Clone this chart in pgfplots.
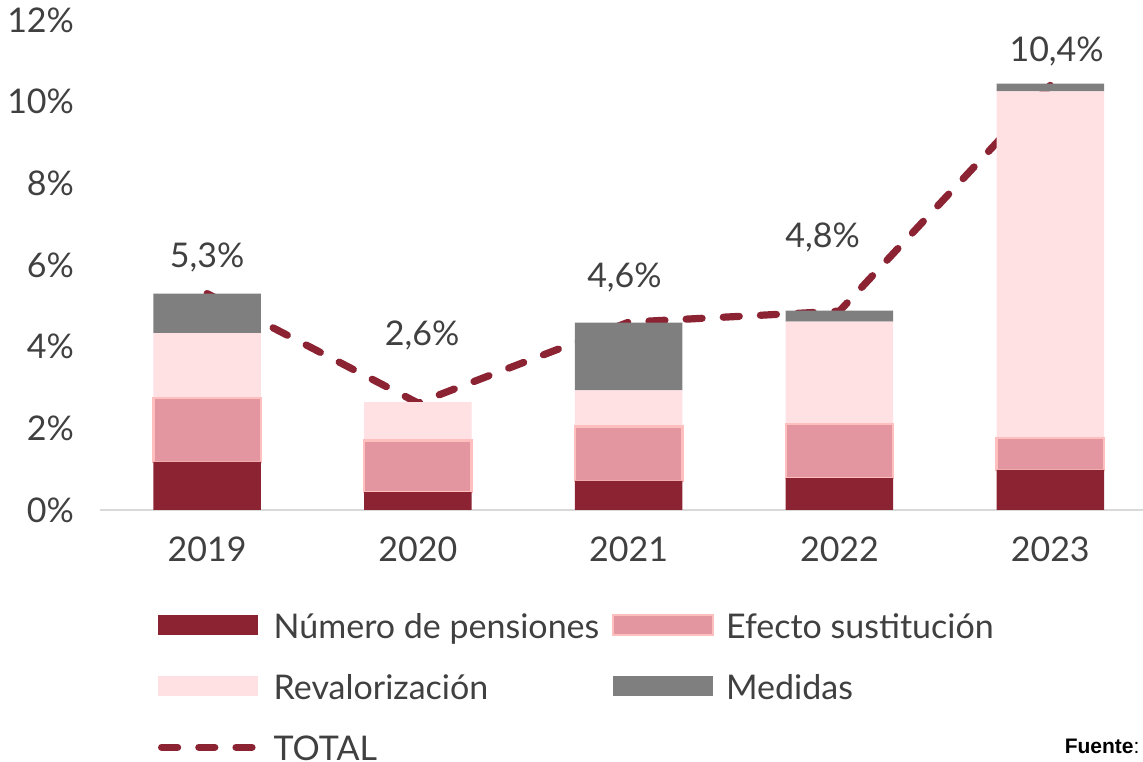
\documentclass[border=0pt]{standalone}
\usepackage{fontspec}
\setmainfont{Lato}
\newfontfamily\arialfont{Liberation Sans}
\usepackage{pgfplots}
\pgfplotsset{compat=1.18}

\definecolor{numcol}{HTML}{8B2332}
\definecolor{efecol}{HTML}{E3969F}
\definecolor{efeborder}{HTML}{FFBFBF}
\definecolor{revcol}{HTML}{FFE1E3}
\definecolor{medcol}{HTML}{7F7F7F}
\definecolor{txtgray}{HTML}{404040}
\definecolor{axisgray}{HTML}{D9D9D9}

\newcommand{\chartfont}{\fontsize{17}{20}\selectfont}

\pgfplotsset{
  swatch/.style={legend image code/.code={\path[##1] (0pt,-3.25pt) rectangle (50pt,6.75pt);}},
  dashline/.style={legend image code/.code={\draw[##1] (1.75pt,1.75pt) -- (50pt,1.75pt);}},
  frame/.style={scale only axis, width=521.5pt, height=245pt,
    xmin=-0.508, xmax=4.44, ymin=0, ymax=12},
}

\begin{document}
\begin{tikzpicture}
\begin{axis}[
  frame,
  ybar stacked,
  bar width=0.51,
  xtick={0,1,2,3,4},
  xticklabels={2019,2020,2021,2022,2023},
  ytick={0,2,4,6,8,10,12},
  yticklabel={\pgfmathprintnumber{\tick}\%},
  /pgf/number format/assume math mode=true,
  major tick length=0pt,
  axis x line*=bottom, axis y line*=left,
  axis line style={-},
  x axis line style={draw=axisgray, line width=1pt},
  y axis line style={draw=none},
  tick label style={font=\chartfont, text=txtgray},
  xticklabel style={yshift=-10pt},
  yticklabel style={xshift=-9.5pt},
  legend columns=2,
  legend cell align=left,
  legend style={draw=none, fill=none, inner sep=0pt, outer sep=0pt,
    at={(0.0556,-0.2123)}, anchor=north west,
    font=\chartfont, text=txtgray, row sep=16.5pt,
    nodes={inner sep=0pt, text height=12pt, text depth=2pt},
    /tikz/every odd column/.append style={column sep=6pt},
    /tikz/every even column/.append style={column sep=6pt}},
]

\addplot[fill=numcol, draw=none, swatch] coordinates {
(0,1.18) (1,0.44) (2,0.71) (3,0.78) (4,0.98)
};
\addlegendentry{\makebox[163pt][l]{Número de pensiones}}

\addplot[fill=efecol, draw=efeborder, line width=1.2pt, swatch] coordinates {
(0,1.56) (1,1.26) (2,1.33) (3,1.33) (4,0.78)
};
\addlegendentry{Efecto sustitución}

\addplot[fill=revcol, draw=none, swatch] coordinates {
(0,1.59) (1,0.94) (2,0.89) (3,2.50) (4,8.49)
};
\addlegendentry{\makebox[163pt][l]{Revalorización}}

\addplot[fill=medcol, draw=none, swatch] coordinates {
(0,0.97) (1,0.0) (2,1.66) (3,0.27) (4,0.19)
};
\addlegendentry{Medidas}

\addplot[sharp plot, stack plots=false, draw=numcol, line width=3.6pt,
  line cap=round, dash pattern=on 8pt off 10.6pt, mark=none, dashline] coordinates {
(0,5.3) (1,2.62) (2,4.6) (3,4.87) (4,10.4)
};
\addlegendentry{TOTAL}

\coordinate (fuente) at (rel axis cs:0.997,-0.496);
\coordinate (bbl) at (rel axis cs:-0.09588,-0.5143);
\coordinate (btr) at (rel axis cs:1,1.0408);
\end{axis}

% data labels of the total, on a plain (unstacked) overlay axis
\begin{axis}[frame, hide axis]
\addplot[only marks, mark=none, point meta=explicit symbolic, nodes near coords,
  every node near coord/.append style={anchor=base, font=\chartfont, text=txtgray, inner sep=0pt}]
  coordinates {
(0,5.93) [5{,}3\%]
(1.02,4.04) [2{,}6\%]
(1.98,5.44) [4{,}6\%]
(2.92,6.42) [4{,}8\%]
(4.03,10.98) [10{,}4\%]
};
\end{axis}

\node[anchor=base east, inner sep=0pt, font=\arialfont\fontsize{10.5}{12}\selectfont]
  at (fuente) {\textbf{Fuente}:};
\pgfresetboundingbox
\useasboundingbox (bbl) rectangle (btr);
\end{tikzpicture}
\end{document}
